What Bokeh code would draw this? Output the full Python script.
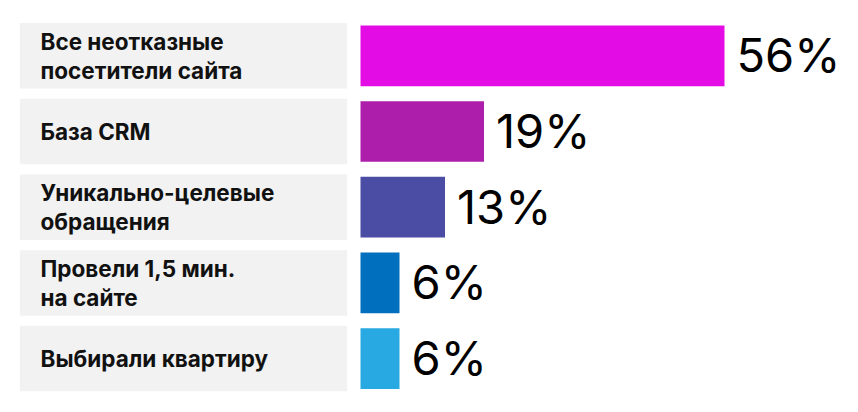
from bokeh.plotting import figure
from bokeh.models import ColumnDataSource, Range1d
from bokeh.embed import file_html
from bokeh.resources import INLINE
from bokeh.core.properties import value

# ---- data ----
categories = [
    "Все неотказные\nпосетители сайта",
    "База CRM",
    "Уникально-целевые\nобращения",
    "Провели 1,5 мин.\nна сайте",
    "Выбирали квартиру",
]
values = [56, 19, 13, 6, 6]
value_labels = ["56%", "19%", "13%", "6%", "6%"]
colors = ["#E40CE4", "#AD1EAA", "#4B4CA3", "#0070BE", "#29A9E1"]

# ---- layout constants (pixels, page coordinates) ----
W, H = 850, 404
PX_PER_UNIT = 6.5          # pixels per percent
ZERO_PX = 360              # x pixel of the 0 value
ROW_PX = 75.7              # row pitch
FIRST_ROW_PX = 55.3        # centre of first row from top
BOX_LEFT_PX, BOX_RIGHT_PX = 19.3, 346.7
LABEL_X_PX = 40

def xd(px):
    return (px - ZERO_PX) / PX_PER_UNIT

idx = list(range(len(categories)))
src = ColumnDataSource(dict(
    y=idx, v=values, lab=value_labels, cat=categories, color=colors,
    zero=[0] * len(idx),
))

p = figure(width=W, height=H, output_backend="svg", toolbar_location=None,
           x_range=Range1d(xd(0), xd(W)),
           y_range=Range1d((H - FIRST_ROW_PX) / ROW_PX, -FIRST_ROW_PX / ROW_PX),
           min_border=0)
p.axis.visible = False
p.grid.visible = False
p.outline_line_color = None
p.background_fill_color = "white"
p.border_fill_color = "white"

# grey label boxes
p.hbar(y="y", left=xd(BOX_LEFT_PX), right=xd(BOX_RIGHT_PX), height=65.5 / ROW_PX,
       source=src, fill_color="#F2F2F2", line_color=None)

# bars
p.hbar(y="y", left="zero", right="v", height=60.7 / ROW_PX, source=src,
       fill_color="color", line_color=None)

# category labels
p.text(x=xd(LABEL_X_PX), y="y", text="cat", source=src,
       text_font=value("Inter"), text_font_size="22.5px", text_font_style="bold",
       text_color="#111111",
       text_align="left", text_baseline="middle", text_line_height=1.08)

# value labels
p.text(x="v", y="y", text="lab", source=src, x_offset=12, y_offset=-1,
       text_font=value("Inter"), text_font_size="47px", text_color="#000000",
       text_align="left", text_baseline="middle")

open("out.html", "w").write(file_html(p, INLINE))
